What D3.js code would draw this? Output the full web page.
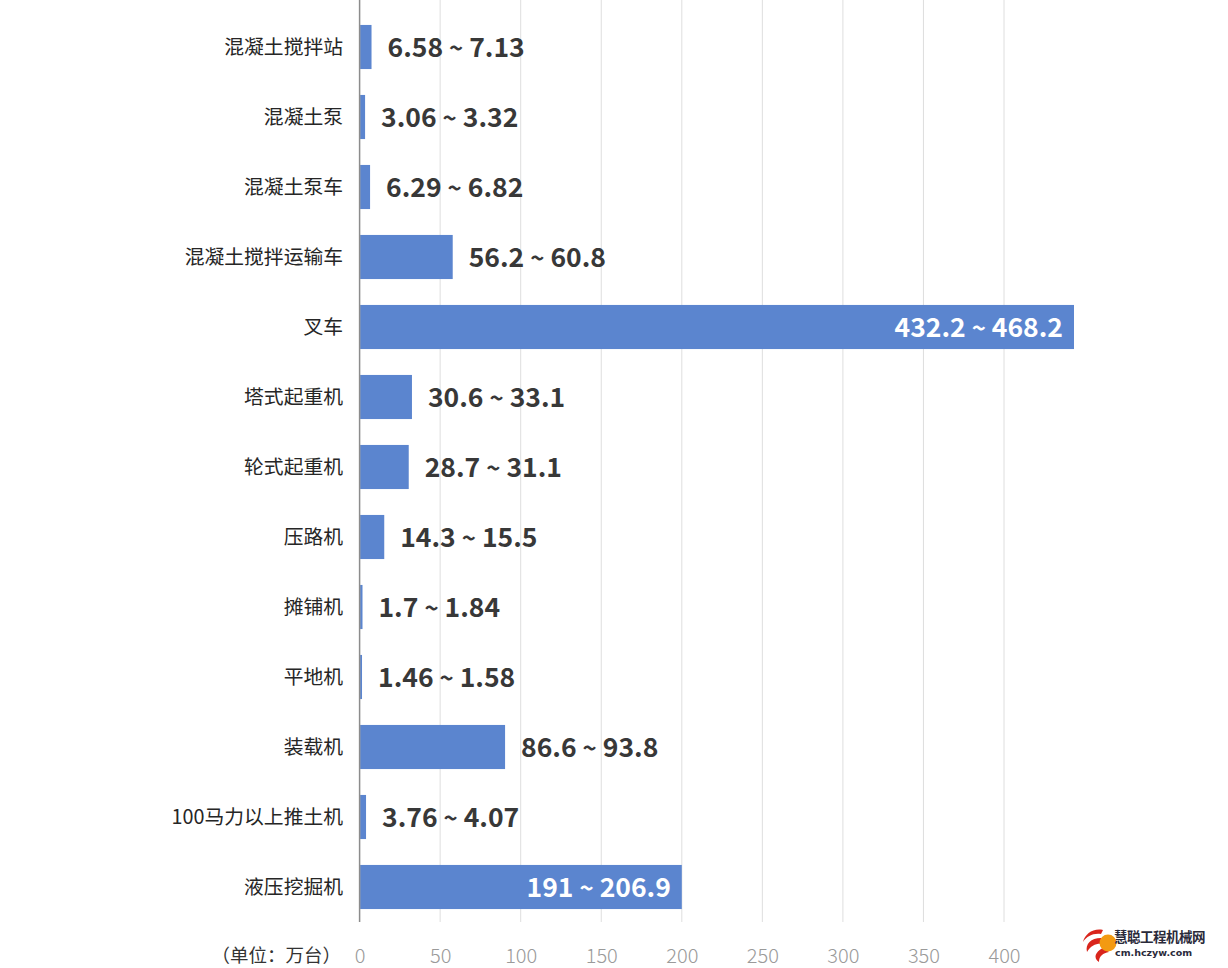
<!DOCTYPE html>
<html>
<head>
<meta charset="utf-8">
<script src="https://cdn.jsdelivr.net/npm/d3@7"></script>
<style>
  html, body { margin: 0; padding: 0; background: #fff; }
  svg { display: block; }
</style>
</head>
<body>
<svg id="chart" width="1228" height="968"></svg>
<script>
const categories = ["混凝土搅拌站", "混凝土泵", "混凝土泵车", "混凝土搅拌运输车", "叉车", "塔式起重机", "轮式起重机", "压路机", "摊铺机", "平地机", "装载机", "100马力以上推土机", "液压挖掘机"];
const barValues = [7.4, 3.4, 6.5, 57.8, 450.2, 32.5, 30.5, 15.3, 1.8, 1.5, 90.3, 4.0, 200];
const lowValues = ["6.58", "3.06", "6.29", "56.2", "432.2", "30.6", "28.7", "14.3", "1.7", "1.46", "86.6", "3.76", "191"];
const highValues = ["7.13", "3.32", "6.82", "60.8", "468.2", "33.1", "31.1", "15.5", "1.84", "1.58", "93.8", "4.07", "206.9"];
const insideLabel = [false, false, false, false, true, false, false, false, false, false, false, false, true];
const tickValues = [0, 50, 100, 150, 200, 250, 300, 350, 400];
const unitLabel = "（单位：万台）";

const svg = d3.select("#chart");
const x0 = 359.6, xMaxPx = 1074;
const x = d3.scaleLinear().domain([0, (xMaxPx - x0) / 1.611]).range([x0, xMaxPx]).clamp(true);
const y = d3.scaleBand().domain(categories).range([12, 922]).paddingInner(0.37).paddingOuter(0.185);

const cjk = "'Noto Sans CJK SC', 'Noto Sans', sans-serif";

// gridlines
svg.append("g").selectAll("line").data(tickValues.slice(1)).join("line")
  .attr("x1", d => x(d)).attr("x2", d => x(d))
  .attr("y1", 0).attr("y2", 922)
  .attr("stroke", "#dedede").attr("stroke-width", 1);

// bars
svg.append("g").selectAll("rect").data(categories).join("rect")
  .attr("x", x(0) + 0.5)
  .attr("y", d => y(d))
  .attr("width", (d, i) => x(barValues[i]) - x(0) - 0.5)
  .attr("height", y.bandwidth())
  .attr("fill", "#5b85cf");

// axis line
svg.append("line").attr("x1", x0).attr("x2", x0).attr("y1", 0).attr("y2", 922)
  .attr("stroke", "#8c8c8c").attr("stroke-width", 1.5);

// bottom axis
const xAxis = d3.axisBottom(x).tickValues(tickValues).tickSize(0).tickPadding(0);
const gx = svg.append("g").attr("transform", "translate(0,956)").call(xAxis);
gx.select(".domain").remove();
gx.selectAll("text")
  .attr("dy", "0.35em")
  .attr("font-family", cjk).attr("font-weight", 300)
  .attr("font-size", 20).attr("fill", "#9a9a9a");

// unit label
svg.append("text").attr("x", 341).attr("y", 956).attr("dy", "0.35em")
  .attr("text-anchor", "end").attr("font-family", cjk).attr("font-size", 18.5)
  .attr("fill", "#333").text(unitLabel);

// category labels
const yAxis = d3.axisLeft(y).tickSize(0).tickPadding(0);
const gy = svg.append("g").attr("transform", "translate(343,0)").call(yAxis);
gy.select(".domain").remove();
gy.selectAll("text")
  .attr("dy", "0.35em")
  .attr("font-family", cjk).attr("font-size", 19.8).attr("fill", "#262626");

// value labels
const vl = svg.append("g").selectAll("text").data(categories).join("text")
  .attr("x", (d, i) => insideLabel[i] ? x(barValues[i]) - 11 : x(barValues[i]) + 16)
  .attr("y", d => y(d) + y.bandwidth() / 2)
  .attr("dy", "0.36em")
  .attr("text-anchor", (d, i) => insideLabel[i] ? "end" : "start")
  .attr("font-family", cjk).attr("font-weight", 700).attr("font-size", 26.5)
  .attr("fill", (d, i) => insideLabel[i] ? "#ffffff" : "#383838");
vl.append("tspan").text((d, i) => lowValues[i]);
vl.append("tspan").attr("font-size", 24).attr("dx", 6).text("~");
vl.append("tspan").attr("dx", 6).text((d, i) => highValues[i]);

// watermark
const wm = svg.append("g").attr("transform", "translate(1107,942)");
wm.append("path").attr("d", "M-4,-12 C-14,-14 -22,-8 -24,0 C-20,-6 -14,-9 -6,-8 Z").attr("fill", "#d9251c");
wm.append("path").attr("d", "M-6,-4 C-16,-4 -22,2 -20,10 C-16,3 -10,1 -4,2 Z").attr("fill", "#d9251c");
wm.append("path").attr("d", "M-4,6 C-12,10 -14,16 -8,20 C-8,14 -4,11 2,10 Z").attr("fill", "#d9251c");
wm.append("circle").attr("cx", 1).attr("cy", 1).attr("r", 8.5).attr("fill", "#f39a12");
svg.append("text").attr("x", 1114).attr("y", 942).attr("font-family", cjk).attr("font-weight", 700)
  .attr("font-size", 13.5).attr("fill", "#2a2a3a").attr("letter-spacing", -0.5).text("慧聪工程机械网");
svg.append("text").attr("x", 1115).attr("y", 956).attr("font-family", "'DejaVu Sans', sans-serif").attr("font-weight", 700)
  .attr("font-size", 9.5).attr("fill", "#2a2a3a").text("cm.hczyw.com");
</script>
</body>
</html>
